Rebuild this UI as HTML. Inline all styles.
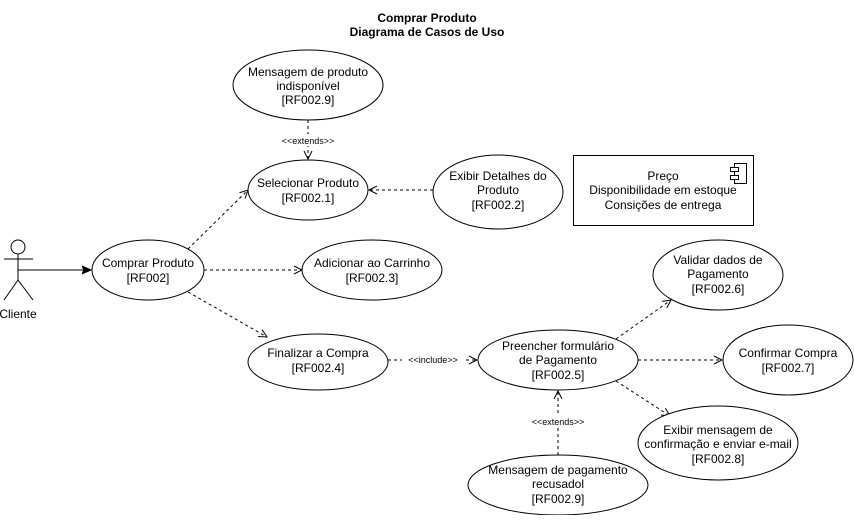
<!DOCTYPE html>
<html><head><meta charset="utf-8"><style>
html,body{margin:0;padding:0;background:#fff;}
svg text{font-family:"Liberation Sans",Arial,sans-serif;font-size:12px;fill:#000;}
</style></head><body>
<svg width="854" height="515" viewBox="0 0 854 515" xmlns="http://www.w3.org/2000/svg">
<defs>
<marker id="oa" markerWidth="10" markerHeight="10" refX="9" refY="5" orient="auto" markerUnits="userSpaceOnUse">
<path d="M1,1 L9,5 L1,9" fill="none" stroke="#000" stroke-width="1"/></marker>
<marker id="fa" markerWidth="10" markerHeight="10" refX="9" refY="5" orient="auto" markerUnits="userSpaceOnUse">
<path d="M0,1 L9,5 L0,9 L2,5 Z" fill="#000" stroke="#000"/></marker>
</defs>
<text x="427" y="22" text-anchor="middle" font-weight="bold">Comprar Produto</text>
<text x="427" y="36" text-anchor="middle" font-weight="bold">Diagrama de Casos de Uso</text>

<!-- actor -->
<g stroke="#000" fill="none" stroke-width="1">
<circle cx="18" cy="247" r="7"/>
<line x1="4" y1="259" x2="33" y2="259"/>
<line x1="18" y1="254" x2="18" y2="280"/>
<line x1="18" y1="280" x2="4" y2="300"/>
<line x1="18" y1="280" x2="33" y2="300"/>
</g>
<text x="18" y="318" text-anchor="middle">Cliente</text>
<line x1="18" y1="270" x2="91" y2="270" stroke="#000" marker-end="url(#fa)"/>

<!-- connectors -->
<g stroke="#000" fill="none" stroke-dasharray="3,3">
<line x1="308" y1="120" x2="308" y2="159" marker-end="url(#oa)"/>
<line x1="433" y1="190" x2="369" y2="190" marker-end="url(#oa)"/>
<line x1="188" y1="249" x2="248" y2="190" marker-end="url(#oa)"/>
<line x1="204" y1="270" x2="302" y2="270" marker-end="url(#oa)"/>
<line x1="188" y1="292" x2="267" y2="337" marker-end="url(#oa)"/>
<line x1="388" y1="360" x2="477" y2="360" marker-end="url(#oa)"/>
<line x1="616" y1="339" x2="671" y2="300" marker-end="url(#oa)"/>
<line x1="638" y1="360" x2="722" y2="360" marker-end="url(#oa)"/>
<line x1="616" y1="381" x2="670" y2="416" marker-end="url(#oa)"/>
<line x1="558" y1="455" x2="558" y2="391" marker-end="url(#oa)"/>
</g>
<rect x="277" y="134" width="64" height="12" fill="#fff"/>
<text x="308" y="144" text-anchor="middle" font-size="9" style="font-size:9px">&lt;&lt;extends&gt;&gt;</text>
<rect x="402" y="354" width="62" height="12" fill="#fff"/>
<text x="433" y="363" text-anchor="middle" style="font-size:9px">&lt;&lt;include&gt;&gt;</text>
<rect x="527" y="416" width="62" height="12" fill="#fff"/>
<text x="558" y="425" text-anchor="middle" style="font-size:9px">&lt;&lt;extends&gt;&gt;</text>

<!-- ellipses -->
<g stroke="#000" fill="#fff">
<ellipse cx="308" cy="85" rx="75" ry="35"/>
<ellipse cx="308" cy="190" rx="60" ry="30"/>
<ellipse cx="498" cy="192" rx="65" ry="37"/>
<ellipse cx="148" cy="270" rx="56" ry="30"/>
<ellipse cx="372" cy="270" rx="70" ry="30"/>
<ellipse cx="318" cy="362" rx="70" ry="28"/>
<ellipse cx="558" cy="360" rx="80" ry="30"/>
<ellipse cx="718" cy="275" rx="65" ry="35"/>
<ellipse cx="788" cy="360" rx="65" ry="35"/>
<ellipse cx="718" cy="443" rx="80" ry="37"/>
<ellipse cx="558" cy="485" rx="90" ry="30"/>
<rect x="573.5" y="155.5" width="180" height="70"/>
<rect x="734.5" y="163.5" width="12" height="20"/>
<rect x="730.5" y="167.5" width="8" height="4"/>
<rect x="730.5" y="175.5" width="8" height="4"/>
</g>

<g text-anchor="middle">
<text x="308" y="76">Mensagem de produto</text>
<text x="308" y="90">indisponível</text>
<text x="308" y="104">[RF002.9]</text>
<text x="308" y="187">Selecionar Produto</text>
<text x="308" y="202">[RF002.1]</text>
<text x="498" y="180">Exibir Detalhes do</text>
<text x="498" y="194">Produto</text>
<text x="498" y="209">[RF002.2]</text>
<text x="148" y="267">Comprar Produto</text>
<text x="148" y="282">[RF002]</text>
<text x="372" y="267">Adicionar ao Carrinho</text>
<text x="372" y="282">[RF002.3]</text>
<text x="318" y="357">Finalizar a Compra</text>
<text x="318" y="372">[RF002.4]</text>
<text x="558" y="350">Preencher formulário</text>
<text x="558" y="364">de Pagamento</text>
<text x="558" y="379">[RF002.5]</text>
<text x="718" y="264">Validar dados de</text>
<text x="718" y="278">Pagamento</text>
<text x="718" y="293">[RF002.6]</text>
<text x="788" y="357">Confirmar Compra</text>
<text x="788" y="372">[RF002.7]</text>
<text x="718" y="434">Exibir mensagem de</text>
<text x="718" y="448">confirmação e enviar e-mail</text>
<text x="718" y="463">[RF002.8]</text>
<text x="558" y="474">Mensagem de pagamento</text>
<text x="558" y="488">recusadol</text>
<text x="558" y="503">[RF002.9]</text>
<text x="663" y="180">Preço</text>
<text x="663" y="194">Disponibilidade em estoque</text>
<text x="663" y="209">Consições de entrega</text>
</g>
</svg>
</body></html>
